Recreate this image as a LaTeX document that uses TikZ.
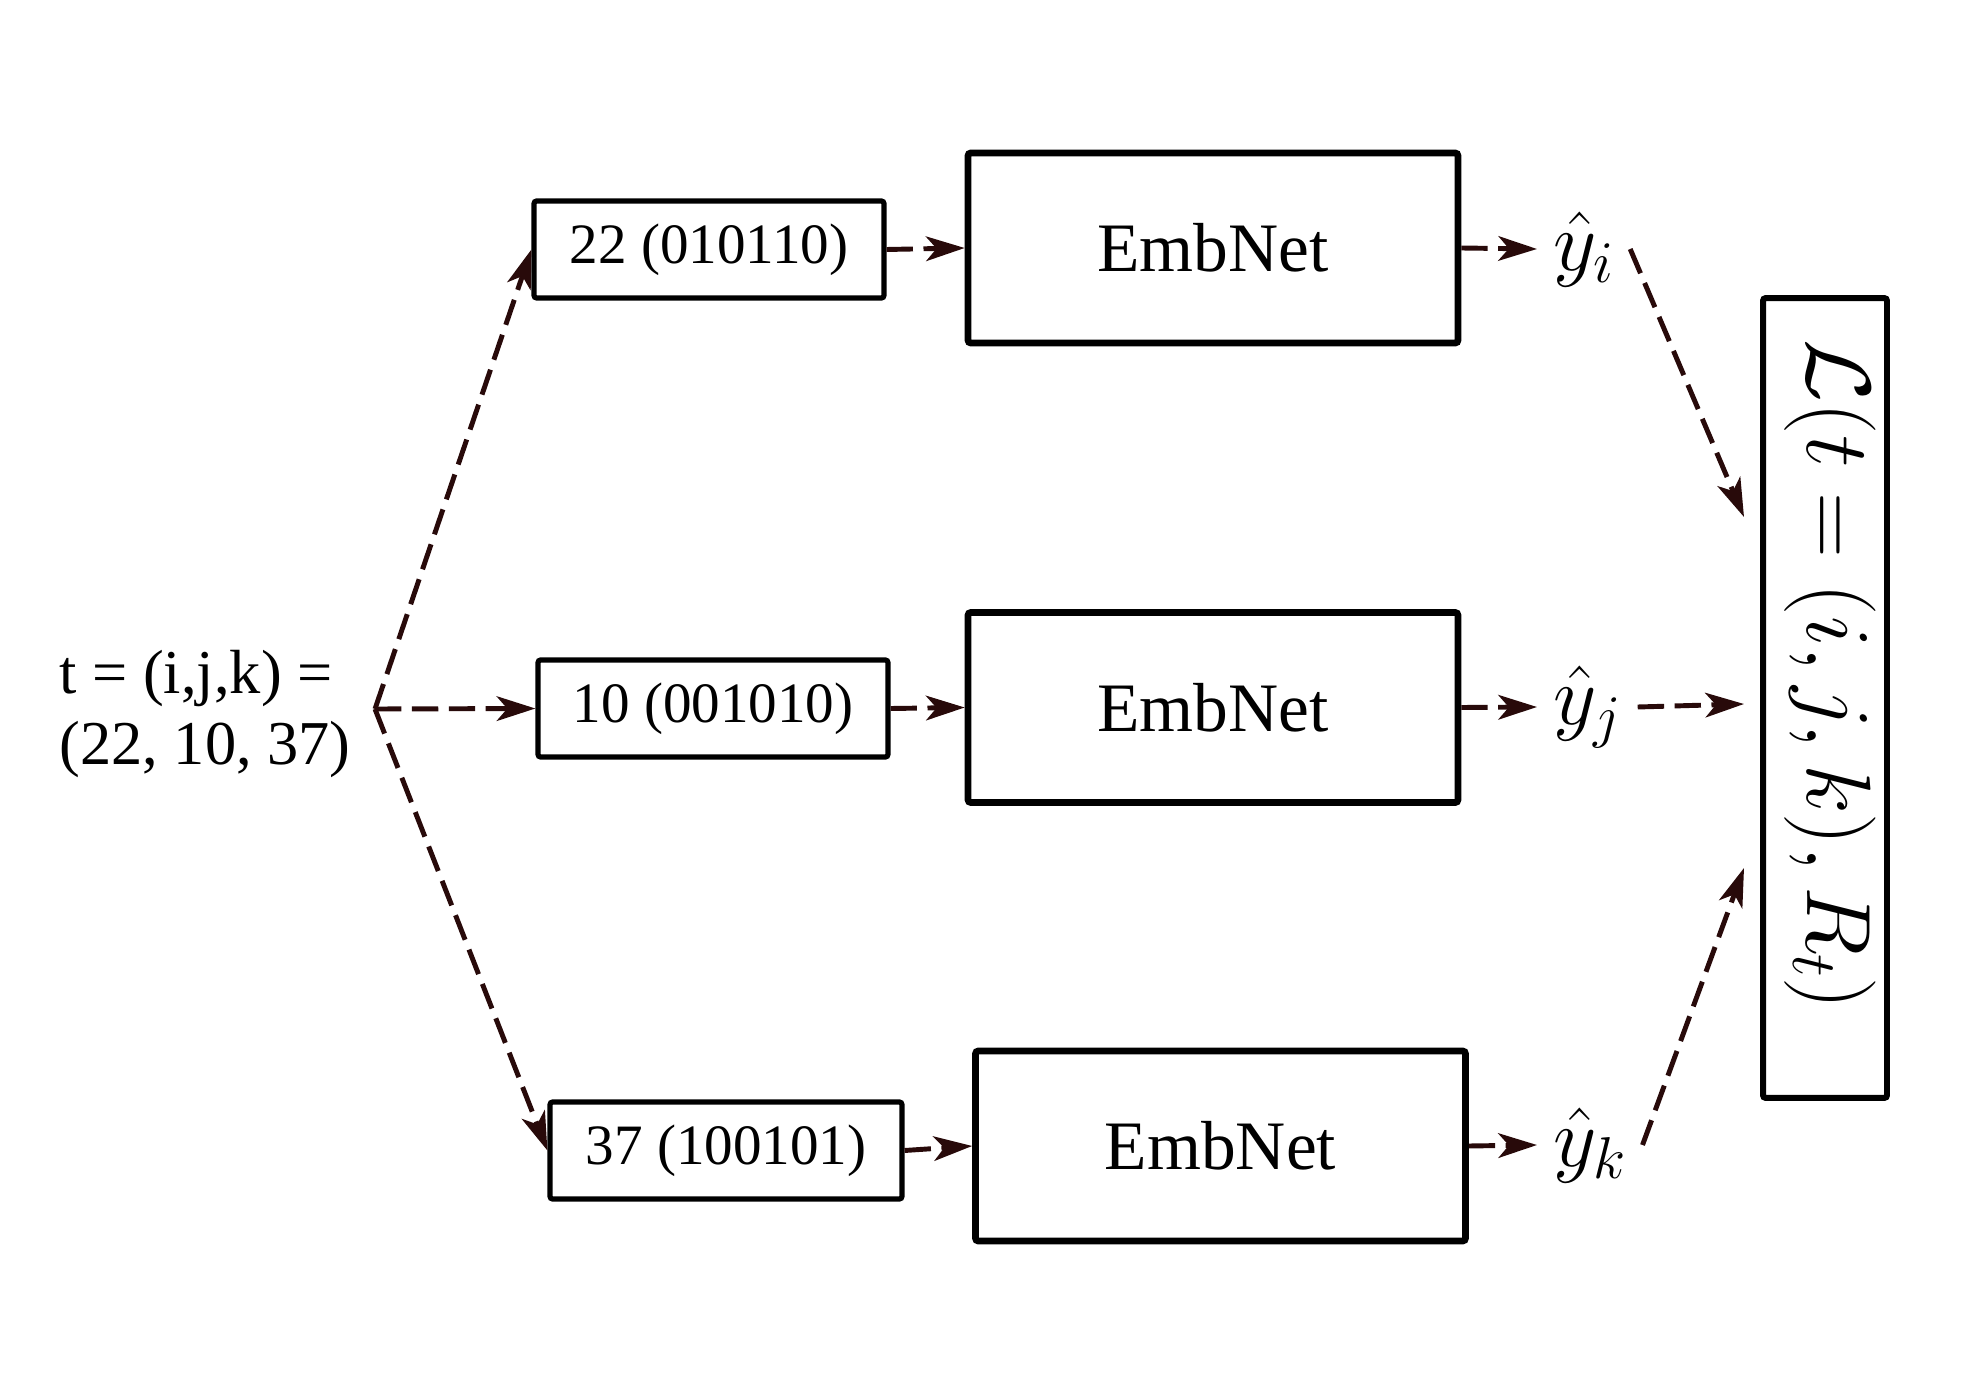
\RequirePackage{fix-cm}
\documentclass[tikz,border=0pt]{standalone}
\usepackage[no-math]{fontspec}
\setmainfont{Liberation Serif}
\usetikzlibrary{arrows.meta,calc}
\definecolor{arr}{RGB}{40,10,10}
\tikzset{
 sbox/.style={draw, line width=3pt, rounded corners=1.5pt, minimum width=7cm, minimum height=1.94cm, inner sep=0pt, font=\fontsize{32.5}{38}\selectfont},
 ebox/.style={draw, line width=3.8pt, rounded corners=1.5pt, minimum width=9.8cm, minimum height=3.8cm, inner sep=0pt, font=\fontsize{39.5}{46}\selectfont},
 flow/.style={draw=arr, line width=2.8pt, dash pattern=on 15pt off 6pt, -{Stealth[length=22pt,width=14pt,inset=6pt,fill=arr]}},
 lbl/.style={font=\fontsize{48}{56}\selectfont, inner ysep=0pt, inner xsep=9pt},
}
\begin{document}
\begin{tikzpicture}[x=0.02cm,y=-0.02cm]
\useasboundingbox (0,0) rectangle (1979,1398);
\node[align=left, inner sep=0pt, font=\fontsize{35.5}{40}\selectfont] (t) at (205,714) {t = (i,j,k) =\\(22, 10, 37)};
\coordinate (br) at (375,709);
\node[sbox] (b1) at (709,249.5) {22 (010110)};
\node[sbox] (b2) at (713,708.5) {10 (001010)};
\node[sbox, minimum width=7.04cm] (b3) at (726,1150.5) {37 (100101)};
\node[ebox] (e1) at (1213,248) {EmbNet};
\node[ebox] (e2) at (1213,707.5) {EmbNet};
\node[ebox] (e3) at (1220.5,1146) {EmbNet};
\node[lbl, anchor=west] (yi) at (1537,249) {$\hat{y}_i$};
\node[lbl, anchor=west] (yj) at (1537,707) {$\hat{y}_j$};
\node[lbl, anchor=west] (yk) at (1537,1145) {$\hat{y}_k$};
\node[draw, line width=3.4pt, rounded corners=1.5pt, minimum width=2.48cm, minimum height=16cm, inner sep=0pt] (loss) at (1825,698) {};
\node[rotate=-90, inner sep=0pt, font=\fontsize{52}{60}\selectfont] (losstext) at (1830,675) {$\mathcal{L}(t=(i,j,k),R_t)$};
\coordinate (li) at (1744,517);
\coordinate (lj) at (1744,704);
\coordinate (lk) at (1744,868);
\draw[flow] (br) -- (b1.west);
\draw[flow] (br) -- (b2.west);
\draw[flow] (br) -- (b3.west);
\draw[flow] (b1.east) -- (e1.west);
\draw[flow] (b2.east) -- (e2.west);
\draw[flow] (b3.east) -- (e3.west);
\draw[flow] (e1.east) -- (yi.west);
\draw[flow] (e2.east) -- (yj.west);
\draw[flow] (e3.east) -- (yk.west);
\draw[flow] (yi.east) -- (li);
\draw[flow] (yj.east) -- (lj);
\draw[flow] (yk.east) -- (lk);
\end{tikzpicture}
\end{document}
